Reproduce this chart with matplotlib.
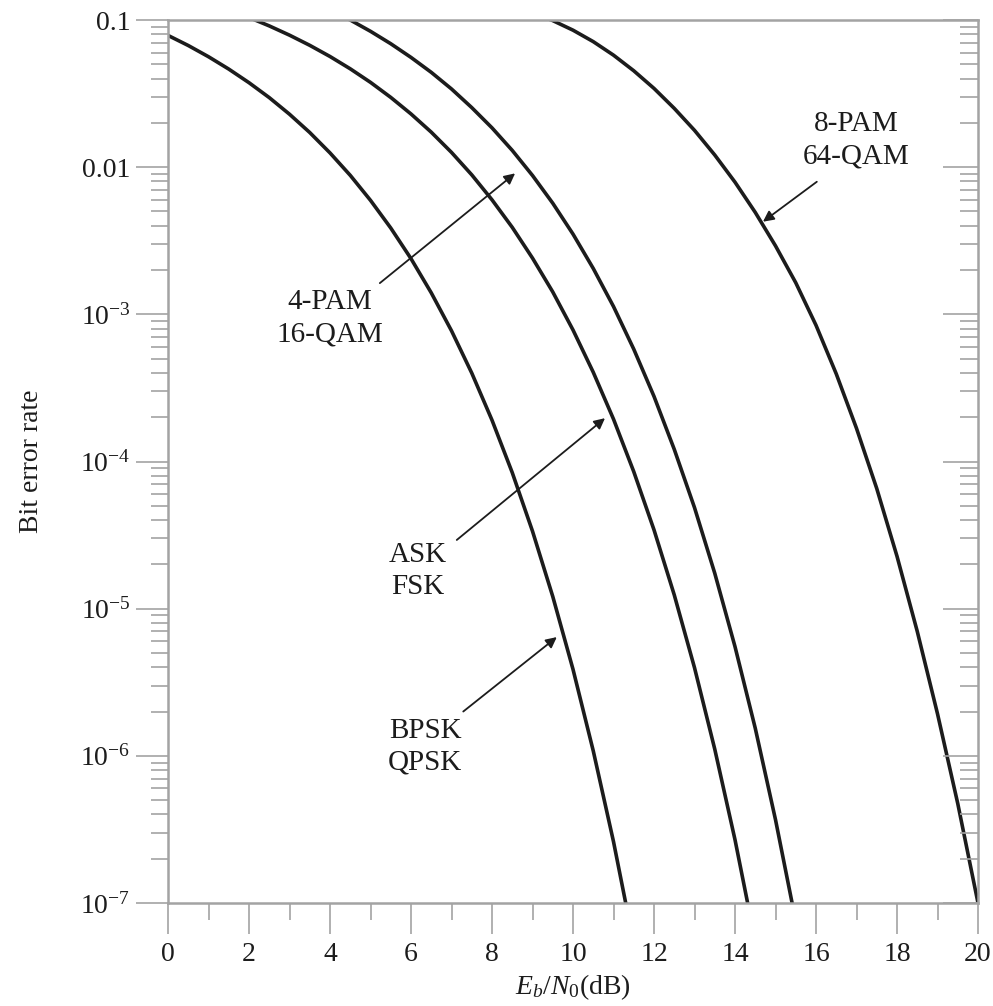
import numpy as np
import matplotlib
matplotlib.use("Agg")
import matplotlib.pyplot as plt
from matplotlib.ticker import FixedLocator, FixedFormatter, LogLocator, NullFormatter, MultipleLocator

plt.rcParams['font.family'] = ['Liberation Serif', 'DejaVu Serif']
plt.rcParams['mathtext.fontset'] = 'custom'
plt.rcParams['mathtext.rm'] = 'Liberation Serif'
plt.rcParams['mathtext.it'] = 'Liberation Serif:italic'

# 读图得到的曲线数据 (Eb/N0 dB, 误码率)
bpsk_x = np.arange(0, 12.0, 0.5)
bpsk_y = [0.0786, 0.0671, 0.0563, 0.0464, 0.0375, 0.0297, 0.0229, 0.0172,
          0.0125, 0.0088, 0.00595, 0.00386, 0.00239, 0.0014, 7.73e-4, 3.99e-4,
          1.91e-4, 8.4e-5, 3.36e-5, 1.21e-5, 3.87e-6, 1.08e-6, 2.61e-7, 5.3e-8]

ask_x = np.arange(2.0, 15.0, 0.5)
ask_y = [0.104, 0.0912, 0.0789, 0.0673, 0.0565, 0.0466, 0.0377, 0.0298,
         0.023, 0.0173, 0.0126, 0.00887, 0.006, 0.0039, 0.00241, 0.00142,
         7.83e-4, 4.04e-4, 1.94e-4, 8.53e-5, 3.43e-5, 1.24e-5, 3.97e-6,
         1.11e-6, 2.69e-7, 5.5e-8]

qam16_x = np.arange(4.0, 16.0, 0.5)
qam16_y = [0.117, 0.1, 0.0838, 0.069, 0.0557, 0.0441, 0.034, 0.0254,
           0.0185, 0.013, 0.00878, 0.00569, 0.00351, 0.00205, 1.13e-3, 5.8e-4,
           2.77e-4, 1.21e-4, 4.86e-5, 1.74e-5, 5.52e-6, 1.54e-6, 3.68e-7, 7.5e-8]

qam64_x = np.arange(9.0, 20.5, 0.5)
qam64_y = [0.112, 0.0991, 0.0853, 0.0713, 0.0577, 0.0452, 0.0343, 0.0251,
           0.0178, 0.0121, 0.00791, 0.00493, 0.00292, 0.00164, 8.43e-4, 3.94e-4,
           1.68e-4, 6.55e-5, 2.27e-5, 7.01e-6, 1.93e-6, 4.74e-7, 1.0e-7]

curves = [(bpsk_x, bpsk_y), (ask_x, ask_y), (qam16_x, qam16_y), (qam64_x, qam64_y)]

# 标注: 文字位置, 箭头起点, 箭头终点
labels = ['8-PAM\n64-QAM', '4-PAM\n16-QAM', 'ASK\nFSK', 'BPSK\nQPSK']
label_pos = [(17.0, 0.0153), (4.0, 9.4e-4), (6.17, 1.8e-5), (6.35, 1.15e-6)]
arrow_from = [(16.02, 7.96e-3), (5.23, 1.63e-3), (7.13, 2.93e-5), (7.29, 2.0e-6)]
arrow_to = [(14.69, 4.26e-3), (8.57, 9.08e-3), (10.79, 1.97e-4), (9.60, 6.41e-6)]

yticks = [1e-7, 1e-6, 1e-5, 1e-4, 1e-3, 0.01, 0.1]
ytick_labels = [r'$10^{-7}$', r'$10^{-6}$', r'$10^{-5}$', r'$10^{-4}$',
                r'$10^{-3}$', '0.01', '0.1']
xticks = list(range(0, 21, 2))

axis_color = '#a3a3a3'
ink = '#1c1c1c'

fig = plt.figure(figsize=(9.93, 10.06), dpi=100)
ax = fig.add_axes([0.1692, 0.1024, 0.8157, 0.8777])

for xs, ys in curves:
    ax.plot(xs, ys, color=ink, lw=2.6, solid_capstyle='butt',
            solid_joinstyle='round')

for txt, pos in zip(labels, label_pos):
    ax.text(pos[0], pos[1], txt, ha='center', va='center', fontsize=21,
            color=ink, linespacing=1.3)
for p0, p1 in zip(arrow_from, arrow_to):
    ax.annotate('', xy=p1, xytext=p0,
                arrowprops=dict(arrowstyle='-|>', color=ink, lw=1.3,
                                mutation_scale=16, shrinkA=0, shrinkB=0))

ax.set_yscale('log')
ax.set_xlim(0, 20)
ax.set_ylim(1e-7, 0.1)

ax.yaxis.set_major_locator(FixedLocator(yticks))
ax.yaxis.set_major_formatter(FixedFormatter(ytick_labels))
ax.yaxis.set_minor_locator(LogLocator(base=10, subs=np.arange(2, 10), numticks=100))
ax.yaxis.set_minor_formatter(NullFormatter())
ax.xaxis.set_major_locator(FixedLocator(xticks))
ax.xaxis.set_minor_locator(MultipleLocator(1))

for s in ax.spines.values():
    s.set_color(axis_color)
    s.set_linewidth(1.8)

ax.tick_params(axis='both', which='both', direction='out', color=axis_color,
               width=1.2, labelsize=20, labelcolor=ink, top=False, right=False)
ax.tick_params(axis='y', which='major', length=23, pad=4)
ax.tick_params(axis='y', which='minor', length=12)
ax.tick_params(axis='x', which='major', length=22, pad=6)
ax.tick_params(axis='x', which='minor', length=12)

# 右侧刻度向内
ax2 = ax.twinx()
ax2.set_yscale('log')
ax2.set_ylim(1e-7, 0.1)
ax2.yaxis.set_major_locator(FixedLocator(yticks))
ax2.yaxis.set_minor_locator(LogLocator(base=10, subs=np.arange(2, 10), numticks=100))
ax2.yaxis.set_minor_formatter(NullFormatter())
ax2.tick_params(axis='y', which='both', direction='in', color=axis_color,
                width=1.2, labelright=False)
ax2.tick_params(axis='y', which='major', length=25)
ax2.tick_params(axis='y', which='minor', length=13)
for s in ax2.spines.values():
    s.set_visible(False)

ax.set_xlabel(r'$E_b/N_0$(dB)', fontsize=20, color=ink, labelpad=4)
ax.set_ylabel('Bit error rate', fontsize=20, color=ink, labelpad=26)

fig.savefig('out.png', dpi=100)
